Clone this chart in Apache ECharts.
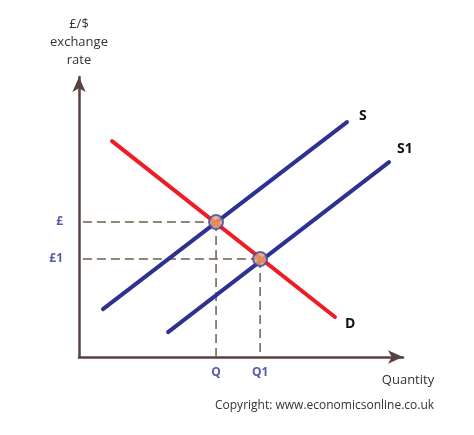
<!DOCTYPE html>
<html>
<head>
<meta charset="utf-8">
<script src="https://cdn.jsdelivr.net/npm/echarts@6/dist/echarts.min.js"></script>
<style>
  html, body { margin: 0; padding: 0; background: #fff; }
  #chart { width: 474px; height: 435px; }
</style>
</head>
<body>
<div id="chart"></div>
<script>
// quantity / exchange-rate in 0..100 diagram units
var sQty  = [7.4, 82.7],  sRate  = [17.1, 83.9];
var s1Qty = [27.5, 95.7], s1Rate = [8.9, 69.6];
var dQty  = [10.2, 79.0], dRate  = [77.1, 14.3];
var eqQty  = [42.3, 55.9];
var eqRate = [48.2, 35.0];
var priceLabels = ["£", "£1"];
var qtyLabels   = ["Q", "Q1"];
var curveNames  = ["S", "S1", "D"];
var dashStart = 1.2;

var BLUE = "#2e3192", RED = "#ee1c24", AXIS = "#5a4142", DASH = "#6e5e4a";
var FONT = "Open Sans";

function curve(name, xs, ys, color, off){
  return {
    type: "line", name: name, silent: true, symbol: "none", z: 3,
    lineStyle: { color: color, width: 4, cap: "round" },
    endLabel: { show: true, formatter: name, offset: off,
                color: "#111", fontFamily: FONT, fontWeight: "bold", fontSize: 14 },
    data: [[xs[0], ys[0]], [xs[1], ys[1]]]
  };
}

var series = [];
// dashed guide lines
eqQty.forEach(function(q, i){
  var r = eqRate[i];
  series.push({ type: "line", symbol: "none", silent: true, z: 2,
    lineStyle: { color: DASH, width: 1.5, type: [9, 5] },
    data: [[dashStart, r], [q, r]] });
  series.push({ type: "line", symbol: "none", silent: true, z: 2,
    lineStyle: { color: DASH, width: 1.5, type: [9, 5] },
    data: [[q, r], [q, 0]] });
});
series.push(curve(curveNames[0], sQty, sRate, BLUE, [4, -6]));
series.push(curve(curveNames[1], s1Qty, s1Rate, BLUE, [0, -13]));
series.push(curve(curveNames[2], dQty, dRate, RED, [2, 7]));
// equilibrium points
series.push({ type: "scatter", silent: true, z: 5, symbolSize: 14,
  itemStyle: { color: "#eba46c", borderColor: "#3a48a8", borderWidth: 2 },
  data: eqQty.map(function(q, i){ return [q, eqRate[i]]; }) });
// price labels on y axis
series.push({ type: "scatter", silent: true, symbolSize: 0, clip: false,
  label: { show: true, position: "left", distance: 16, color: BLUE, fontFamily: FONT,
           fontWeight: "bold", fontSize: 12,
           formatter: function(p){ return priceLabels[p.dataIndex]; } },
  data: eqRate.map(function(r){ return [0, r]; }) });
// quantity labels on x axis
series.push({ type: "scatter", silent: true, symbolSize: 0, clip: false,
  label: { show: true, position: "bottom", distance: 10, color: BLUE, fontFamily: FONT,
           fontWeight: "bold", fontSize: 12,
           formatter: function(p){ return qtyLabels[p.dataIndex]; } },
  data: eqQty.map(function(q){ return [q, 0]; }) });

var chart = echarts.init(document.getElementById("chart"));
chart.setOption({
  animation: false,
  grid: { left: 79, right: 71, top: 77, bottom: 78 },
  xAxis: {
    type: "value", min: 0, max: 100,
    name: "Quantity", nameLocation: "end", nameGap: 5,
    nameTextStyle: { color: "#333", fontFamily: FONT, fontSize: 13,
                     align: "center", verticalAlign: "top", padding: [17, 0, 0, 0] },
    axisLine: { lineStyle: { color: AXIS, width: 2.5 }, symbol: ["none", "arrow"], symbolSize: [10, 15] },
    axisTick: { show: false }, axisLabel: { show: false }, splitLine: { show: false }
  },
  yAxis: {
    type: "value", min: 0, max: 100,
    name: "£/$\nexchange\nrate", nameLocation: "end", nameGap: 8,
    nameTextStyle: { color: "#333", fontFamily: FONT, fontSize: 13, lineHeight: 18, align: "center" },
    axisLine: { lineStyle: { color: AXIS, width: 2.5 }, symbol: ["none", "arrow"], symbolSize: [10, 15] },
    axisTick: { show: false }, axisLabel: { show: false }, splitLine: { show: false }
  },
  graphic: [{
    type: "text", left: 215, top: 400,
    style: { text: "Copyright: www.economicsonline.co.uk", fill: "#333",
             font: "12px 'Open Sans'" }
  }],
  series: series
});
</script>
</body>
</html>
